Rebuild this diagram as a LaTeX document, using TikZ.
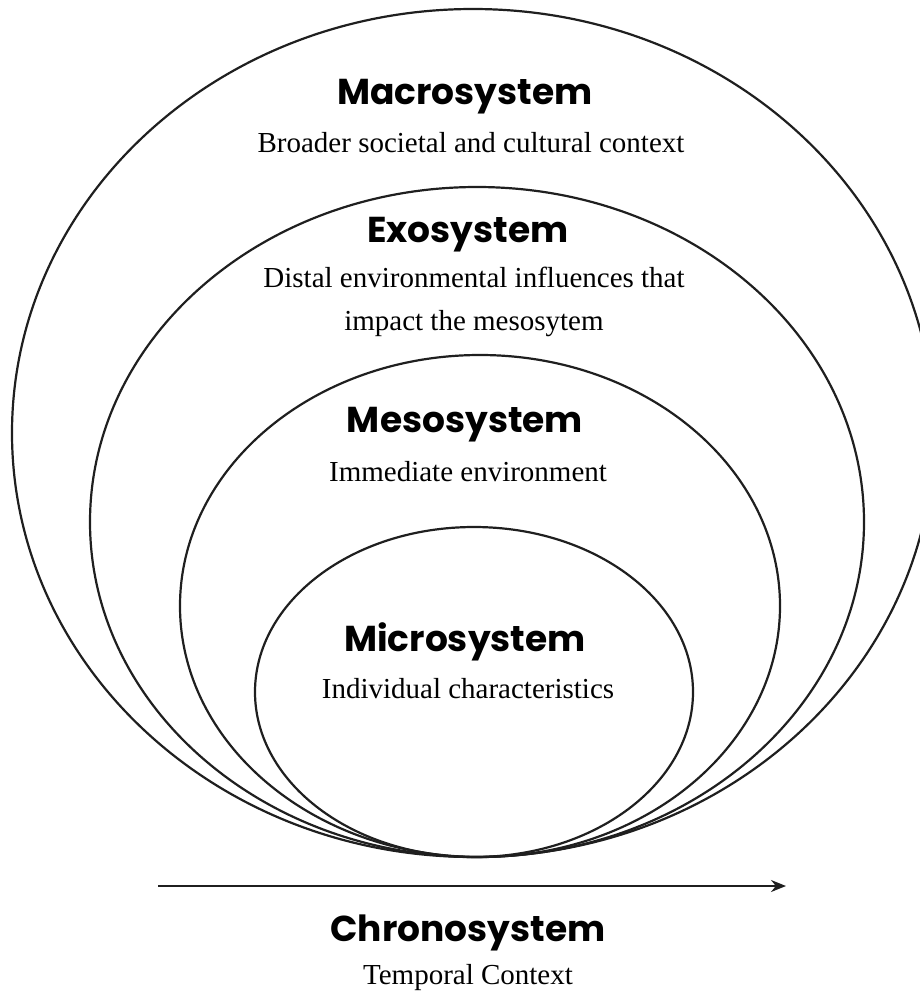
\documentclass[tikz,border=0pt]{standalone}
\usepackage{fontspec}
\setmainfont{Liberation Serif}
\newfontfamily\titlefont{Poppins}[UprightFont=* Bold]
\definecolor{bfInk}{HTML}{1F1F1F}
\usetikzlibrary{arrows.meta}

\begin{document}
\begin{tikzpicture}[x=1pt,y=-1pt,
                    ring/.style={draw=bfInk,line width=2.2pt},
                    title/.style={font=\titlefont\fontsize{36}{40}\selectfont,text=black},
                    descr/.style={font=\fontsize{29}{43}\selectfont,align=center,text=black}]
  \useasboundingbox (0,0) rectangle (920,996);
  \clip (0,0) rectangle (920,996);
  % nested systems, all touching at the bottom
  \draw[ring] (473,433) ellipse [x radius=461pt, y radius=424pt];
  \draw[ring] (477,522) ellipse [x radius=387pt, y radius=335pt];
  \draw[ring] (480,606) ellipse [x radius=300pt, y radius=251pt];
  \draw[ring] (474,692) ellipse [x radius=219pt, y radius=165pt];

  \node[title] (macro) at (465,97) {Macrosystem};
  \node[descr] (macrotxt) at (471,143) {Broader societal and cultural context};
  \node[title] (exo) at (468,235) {Exosystem};
  \node[descr] (exotxt) at (474,302) {Distal environmental influences that\\impact the mesosytem};
  \node[title] (meso) at (465,425) {Mesosystem};
  \node[descr] (mesotxt) at (468,472) {Immediate environment};
  \node[title] (micro) at (465,642) {Microsystem};
  \node[descr] (microtxt) at (468,689) {Individual characteristics};

  % time axis
  \coordinate (tstart) at (158,886);
  \coordinate (tend) at (786,886);
  \draw[bfInk,line width=2pt,-{Stealth[length=15pt,width=12pt]}] (tstart) -- (tend);
  \node[title] (chrono) at (468,933) {Chronosystem};
  \node[descr] (chronotxt) at (468,978) {Temporal Context};
\end{tikzpicture}
\end{document}
